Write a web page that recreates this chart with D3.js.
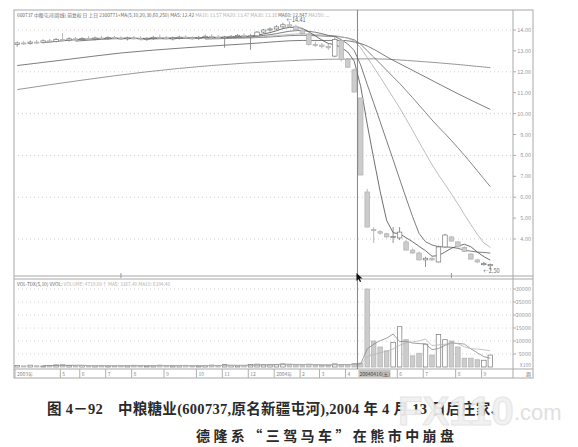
<!DOCTYPE html>
<html><head><meta charset="utf-8">
<script src="https://cdn.jsdelivr.net/npm/d3@7/dist/d3.min.js"></script>
<style>body{margin:0;background:#fff}svg{display:block}</style>
</head><body><svg id="c" width="578" height="447"></svg>
<script>
// ---------- DATA (weekly bars) ----------
const opens  = [13.30,13.38,13.35,13.42,13.40,13.48,13.45,13.55,13.52,13.58,13.55,13.60,13.57,13.62,13.60,13.64,13.60,13.58,13.62,13.60,
                13.56,13.60,13.65,13.62,13.58,13.62,13.66,13.62,13.60,13.65,13.70,13.66,13.62,13.66,13.70,13.74,13.70,13.72,13.90,14.00,
                14.05,14.15,14.25,14.18,14.00,13.80,13.30,13.28,13.22,12.75,13.50,12.60,12.09,10.75,6.25,4.45,4.35,4.25,4.08,4.05,
                3.86,3.47,3.33,3.00,3.08,2.90,3.62,4.10,3.86,3.60,3.28,3.00,2.80,2.72];
const highs  = [13.45,13.48,13.50,13.52,13.55,13.58,13.62,13.85,13.65,13.66,13.66,13.70,13.68,13.72,13.70,13.72,13.70,13.68,13.72,13.70,
                13.66,13.72,13.78,13.72,13.68,13.72,13.75,13.70,13.72,13.78,13.80,13.76,13.72,13.76,13.80,13.85,13.80,13.95,14.05,14.12,
                14.22,14.35,14.41,14.25,14.08,13.88,13.45,13.38,13.35,13.65,13.55,12.65,12.15,10.75,6.40,4.57,4.42,4.30,4.57,4.57,
                3.95,3.55,3.40,3.15,3.12,3.68,4.25,4.15,3.90,3.65,3.32,3.05,2.90,2.82];
const lows   = [13.20,13.28,13.30,13.32,13.35,13.40,13.40,13.48,13.45,13.50,13.48,13.52,13.50,13.55,13.52,13.56,13.52,13.50,13.55,13.50,
                13.48,13.52,13.58,13.54,13.50,13.55,13.58,13.52,13.52,13.58,13.60,13.55,13.15,13.58,13.62,13.60,13.05,13.68,13.85,13.92,
                14.00,14.08,14.10,13.95,13.75,13.25,13.20,13.12,13.05,12.70,12.50,12.20,11.03,7.06,4.57,3.81,4.20,4.05,3.81,3.95,
                3.45,3.30,2.98,2.66,2.95,2.88,3.58,3.88,3.60,3.38,3.02,2.85,2.72,2.50];
const closes = [13.38,13.35,13.42,13.40,13.48,13.45,13.55,13.52,13.58,13.55,13.60,13.57,13.62,13.60,13.64,13.60,13.58,13.62,13.60,13.56,
                13.60,13.65,13.62,13.58,13.62,13.66,13.62,13.60,13.65,13.70,13.66,13.62,13.66,13.70,13.74,13.70,13.72,13.90,14.00,14.05,
                14.15,14.25,14.18,14.00,13.82,13.30,13.28,13.22,13.15,13.55,12.60,12.22,11.03,7.06,4.57,4.43,4.28,4.10,4.12,4.33,
                3.47,3.33,3.00,3.08,3.00,3.62,4.19,3.90,3.62,3.40,3.04,2.90,2.82,2.78];
const volumes = [600,450,700,500,400,600,800,900,500,450,600,400,500,650,450,400,600,500,700,450,
                 400,500,750,600,450,500,650,400,450,600,800,500,900,600,450,650,1000,1100,900,800,
                 1000,1200,1100,800,700,1100,800,600,700,1200,1000,900,1400,1500,30000,10000,7700,6200,9500,15500,
                 10500,4300,5300,8800,4600,12500,10500,10000,7700,3400,3400,2800,2600,4600];
// long moving averages read as key points [week index, value]
const ma60Pts  = [[0,12.30],[8,12.60],[16,12.90],[26,13.15],[36,13.35],[44,13.50],[50,13.50],[53,13.35],[58,12.55],[63,11.75],[68,10.95],[73,10.20]];
const ma250Pts = [[0,11.15],[10,11.60],[20,12.00],[30,12.30],[40,12.50],[48,12.60],[55,12.62],[62,12.50],[68,12.35],[73,12.20]];
const priceTicks = ["14.00","13.00","12.00","11.00","10.00","9.00","8.00","7.00","6.00","5.00","4.00"];
const priceGrid  = [14,12,10,8,6,4];
const volTicks   = [30000,25000,20000,15000,10000,5000];
const dateTicks  = [[0,"2003年"],[7,"5"],[10,"6"],[14,"7"],[18,"8"],[23,"9"],[28,"10"],[32,"11"],[36,"12"],[40,"2004年"],[44,"2"],[47,"3"],[51,"4"],[59,"6"],[63,"7"],[68,"8"],[72,"9"]];
const cursorWeek = 52;
const highLabel = "14.41", lowLabel = "2.50";

// ---------- LAYOUT ----------
const L=14, R=513, AX=533, PT=10, PB=276, VT=280, VB=369, DB=378;
const svg = d3.select("#c");
const x = d3.scaleBand().domain(d3.range(77)).range([L,R]).paddingInner(0.3).paddingOuter(0.15);
const cx = i => x(i) + x.bandwidth()/2;
const y = d3.scaleLinear().domain([4,14]).range([239,30]);
const yv = d3.scaleLinear().domain([0,30000]).range([367,289]);
const f5 = "Noto Sans CJK SC, DejaVu Sans, sans-serif";

// frames
svg.append("rect").attr("x",L).attr("y",PT).attr("width",AX-L).attr("height",DB-PT).attr("fill","none").attr("stroke","#a8a8a8");
svg.append("line").attr("x1",R).attr("x2",R).attr("y1",PT).attr("y2",DB).attr("stroke","#a8a8a8");
[PB,VT-1,VB].forEach(v=>svg.append("line").attr("x1",L).attr("x2",AX).attr("y1",v).attr("y2",v).attr("stroke","#a8a8a8"));

// grids
svg.selectAll(".pg").data(priceGrid).enter().append("line")
  .attr("x1",L).attr("x2",R).attr("y1",d=>y(d)).attr("y2",d=>y(d))
  .attr("stroke","#d0d0d0").attr("stroke-dasharray","1,3");
svg.selectAll(".vg").data(volTicks).enter().append("line")
  .attr("x1",L).attr("x2",R).attr("y1",d=>yv(d)).attr("y2",d=>yv(d))
  .attr("stroke","#d4d4d4").attr("stroke-dasharray","1,3");

// axis labels
const pa = svg.append("g");
priceTicks.forEach(t=>{
  const v=+t;
  pa.append("line").attr("x1",R).attr("x2",R+3).attr("y1",y(v)).attr("y2",y(v)).attr("stroke","#aaa");
  pa.append("text").attr("x",AX-2).attr("y",y(v)+2).attr("text-anchor","end").attr("font-size",5.5)
    .attr("font-family",f5).attr("fill","#999").text(t);
});
volTicks.forEach(v=>{
  pa.append("line").attr("x1",R).attr("x2",R+3).attr("y1",yv(v)).attr("y2",yv(v)).attr("stroke","#aaa");
  pa.append("text").attr("x",AX-2).attr("y",yv(v)+2).attr("text-anchor","end").attr("font-size",5.5)
    .attr("font-family",f5).attr("fill","#999").text(v);
});
pa.append("text").attr("x",AX-2).attr("y",367).attr("text-anchor","end").attr("font-size",5).attr("font-family",f5).attr("fill","#999").text("X100");

// moving averages
function sma(a,n){return a.map((d,i)=> i<n-1?null:d3.mean(a.slice(i-n+1,i+1)));}
const lineP = d3.line().defined(d=>d!=null).x((d,i)=>cx(i)).y(d=>y(d));
const linePts = d3.line().x(d=>cx(d[0])).y(d=>y(d[1])).curve(d3.curveMonotoneX);
const maG = svg.append("g").attr("fill","none");
maG.append("path").attr("d",linePts(ma250Pts)).attr("stroke","#858585").attr("stroke-width",0.85);
maG.append("path").attr("d",linePts(ma60Pts)).attr("stroke","#666").attr("stroke-width",0.85);
[[30,"#707070"],[20,"#b0b0b0"],[10,"#666"],[5,"#555"]].forEach(([n,c])=>{
  maG.append("path").attr("d",lineP(sma(closes,n))).attr("stroke",c).attr("stroke-width",0.85);
});

// candles
const bw = x.bandwidth();
const cg = svg.append("g");
closes.forEach((c,i)=>{
  const o=opens[i], up=c>=o;
  cg.append("line").attr("x1",cx(i)).attr("x2",cx(i)).attr("y1",y(highs[i])).attr("y2",y(lows[i]))
    .attr("stroke",up?"#777":"#a5a5a5").attr("stroke-width",0.8);
  const top=y(Math.max(o,c)), h=Math.max(1,Math.abs(y(o)-y(c)));
  cg.append("rect").attr("x",x(i)).attr("y",top).attr("width",bw).attr("height",h)
    .attr("fill",up?"#fff":"#cccccc").attr("stroke",up?"#777":"#b0b0b0").attr("stroke-width",0.7);
});
const hi = d3.maxIndex(highs), lo = d3.minIndex(lows);
svg.append("text").attr("x",cx(hi)-3).attr("y",y(highs[hi])+1).attr("font-size",5.5).attr("font-family",f5).attr("fill","#666").text("←"+highLabel);
svg.append("text").attr("x",cx(lo)-7).attr("y",y(lows[lo])+3).attr("font-size",5.5).attr("font-family",f5).attr("fill","#666").text("←"+lowLabel);

// volume bars
const vg = svg.append("g");
volumes.forEach((v,i)=>{
  const up = closes[i]>=opens[i];
  vg.append("rect").attr("x",x(i)).attr("y",yv(v)).attr("width",bw).attr("height",Math.max(0.5,yv(0)-yv(v)))
    .attr("fill",up?"#fff":"#cccccc").attr("stroke",up?"#777":"#b0b0b0").attr("stroke-width",0.7);
});
const lineV = d3.line().defined(d=>d!=null).x((d,i)=>cx(i)).y(d=>yv(d));
vg.append("path").attr("d",lineV(sma(volumes,5))).attr("fill","none").attr("stroke","#888").attr("stroke-width",0.8);
vg.append("path").attr("d",lineV(sma(volumes,10))).attr("fill","none").attr("stroke","#b5b5b5").attr("stroke-width",0.8);

// headers
const hdr = svg.append("text").attr("x",17).attr("y",16.5).attr("font-size",4.8).attr("font-family",f5);
hdr.append("tspan").attr("fill","#666").text("600737 中粮屯河(周线) 前复权 日 上日 2300771+MA(5,10,20,30,60,250) MA5: 12.42");
hdr.append("tspan").attr("fill","#b0b0b0").text("   MA10: 13.57   MA20: 13.47   MA30: 13.38");
hdr.append("tspan").attr("fill","#666").text("   MA60: 12.847");
hdr.append("tspan").attr("fill","#b0b0b0").text("   MA250: ...");
const vh = svg.append("text").attr("x",17).attr("y",285.5).attr("font-size",4.8).attr("font-family",f5);
vh.append("tspan").attr("fill","#666").text("VOL-TDX(5,10) VVOL: ");
vh.append("tspan").attr("fill","#b0b0b0").text("  VOLUME: 4719.00↑   MA5: 3367.40   MA10: 6394.40");

// date row
const dg = svg.append("g");
dateTicks.forEach(([i,t])=>{
  dg.append("line").attr("x1",x(i)).attr("x2",x(i)).attr("y1",VB).attr("y2",DB).attr("stroke","#b0b0b0");
  dg.append("text").attr("x",x(i)+2).attr("y",DB-2).attr("font-size",5).attr("font-family",f5).attr("fill","#888").text(t);
});
// cursor
const cxs = cx(cursorWeek) + x.step()/2;
svg.append("line").attr("x1",cxs).attr("x2",cxs).attr("y1",PT).attr("y2",VB).attr("stroke","#666").attr("stroke-width",0.8);
dg.append("rect").attr("x",cxs+1).attr("y",VB+0.5).attr("width",32).attr("height",8).attr("fill","#c4c4c4");
dg.append("text").attr("x",cxs+2).attr("y",DB-2).attr("font-size",5).attr("font-family",f5).attr("fill","#444").text("20040416(五)");
svg.append("path").attr("d",`M${cxs-1},${PB-3} l0,8 l2,-2 l1.5,3 l1.2,-0.6 l-1.5,-2.8 l2.8,0 z`).attr("fill","#111");
svg.append("text").attr("x",AX-2).attr("y",DB-2).attr("text-anchor","end").attr("font-size",5).attr("font-family",f5).attr("fill","#666").text("周");
[16,67].forEach(i=>svg.append("line").attr("x1",cx(i)).attr("x2",cx(i)).attr("y1",PB-3).attr("y2",PB+2).attr("stroke","#999"));

// caption
const capF = "Liberation Serif, Noto Sans CJK SC, serif";
svg.append("text").attr("x",47).attr("y",414).attr("font-size",14.5).attr("font-weight","bold").attr("font-family",capF)
  .attr("fill","#2a2a2a").attr("textLength",458).attr("lengthAdjust","spacing")
  .text("图 4－92　中粮糖业(600737,原名新疆屯河),2004 年 4 月 13 日后庄家、");
svg.append("text").attr("x",196).attr("y",441).attr("font-size",14).attr("font-weight","bold").attr("font-family","Noto Sans CJK SC, sans-serif")
  .attr("fill","#2a2a2a").attr("textLength",258).attr("lengthAdjust","spacing")
  .text("德隆系“三驾马车”在熊市中崩盘");
// watermark
svg.append("text").attr("x",398).attr("y",425).attr("font-size",40).attr("font-weight","900").attr("font-family","Liberation Sans, sans-serif")
  .attr("fill","#f0f0f0").attr("stroke","#e4e4e4").attr("opacity",0.93).text("FX110");
svg.append("text").attr("x",514).attr("y",420).attr("font-size",22).attr("font-family","Liberation Sans, sans-serif")
  .attr("fill","#e0e0e0").text(".com");
</script></body></html>
